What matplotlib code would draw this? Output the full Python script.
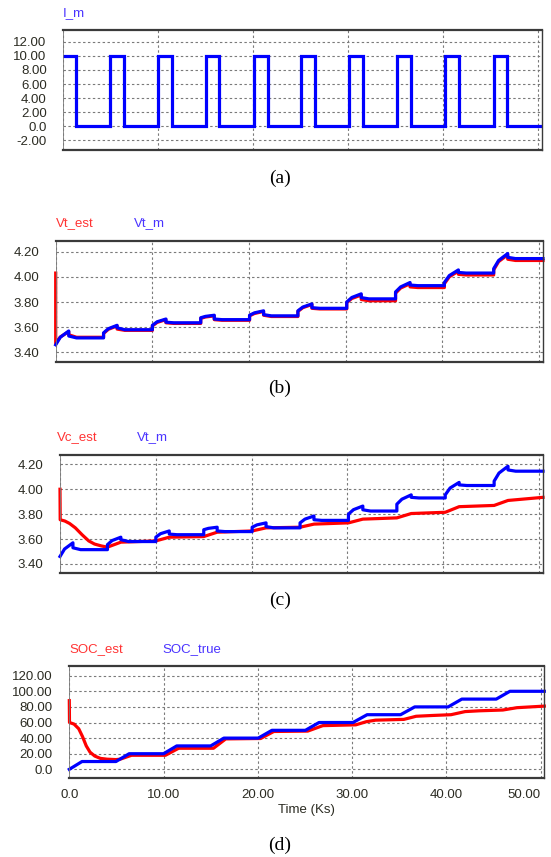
import matplotlib

matplotlib.use("Agg")
import matplotlib.pyplot as plt

W, H = 551, 857
T_END = 50.4

# pulse timing (Ks), shared by all traces
pulse_on = [0.0, 4.95, 10.0, 15.0, 20.05, 25.05, 30.1, 35.15, 40.2, 45.3]
pulse_off = [1.35, 6.35, 11.4, 16.4, 21.5, 26.5, 31.6, 36.65, 41.65, 46.75]
i_high = 10.0
i_low = 0.0

# terminal voltage per cycle: value after switch-on, value part way through the
# pulse, peak at switch-off, value right after switch-off, value at end of rest
vt_m_on = [3.46, 3.555, 3.615, 3.675, 3.695, 3.73, 3.80, 3.88, 3.955, 4.065]
vt_m_mid = [3.52, 3.588, 3.643, 3.686, 3.714, 3.76, 3.836, 3.92, 4.01, 4.13]
vt_m_peak = [3.57, 3.615, 3.665, 3.695, 3.73, 3.785, 3.865, 3.955, 4.055, 4.185]
vt_m_after = [3.53, 3.595, 3.64, 3.665, 3.70, 3.755, 3.835, 3.935, 4.035, 4.155]
vt_m_rest = [3.515, 3.58, 3.635, 3.66, 3.69, 3.75, 3.825, 3.93, 4.03, 4.145]

vt_est_init = 4.03
vt_est_on = [3.47, 3.55, 3.61, 3.67, 3.69, 3.725, 3.795, 3.87, 3.945, 4.055]
vt_est_mid = [3.522, 3.583, 3.638, 3.681, 3.709, 3.755, 3.828, 3.911, 4.0, 4.121]
vt_est_peak = [3.565, 3.61, 3.66, 3.69, 3.725, 3.78, 3.855, 3.945, 4.045, 4.175]
vt_est_after = [3.54, 3.585, 3.635, 3.66, 3.695, 3.75, 3.82, 3.92, 4.02, 4.14]
vt_est_rest = [3.52, 3.575, 3.63, 3.655, 3.685, 3.745, 3.81, 3.915, 4.015, 4.13]

# estimated open-circuit voltage
vc_est_t = [0, 0.02, 0.5, 1.0, 1.6, 2.3, 3.0, 3.6, 4.3, 4.95, 6.35, 10.0, 11.4,
            15.0, 16.4, 20.05, 21.5, 25.05, 26.5, 30.1, 31.6, 35.15, 36.65,
            40.2, 41.65, 45.3, 46.75, 50.4]
vc_est_v = [4.00, 3.755, 3.745, 3.725, 3.69, 3.635, 3.585, 3.56, 3.545, 3.535,
            3.575, 3.585, 3.615, 3.62, 3.655, 3.665, 3.69, 3.695, 3.72, 3.73,
            3.76, 3.77, 3.805, 3.815, 3.86, 3.87, 3.91, 3.935]

# SOC (%)
soc_true_levels = [0, 10, 20, 30, 40, 50, 60, 70, 80, 90, 100]
soc_est_t = [0, 0.02, 0.5, 1.0, 1.4, 1.8, 2.2, 2.7, 3.3, 4.0, 4.95, 5.4, 6.6,
             10.2, 11.6, 15.3, 16.6, 20.3, 21.7, 25.3, 26.9, 30.4, 31.5, 32.5,
             35.5, 36.8, 38.5, 40.5, 42.0, 43.5, 46.0, 47.5, 50.4]
soc_est_v = [88, 60, 58, 52, 42, 30, 22, 17, 14, 13, 12.5, 13, 18, 18, 27, 27,
             39, 39.5, 48.5, 49, 56, 57, 61, 63, 64, 68, 69, 70, 74, 75, 76, 79, 81]

RED = "#ff0000"
BLUE = "#0000ff"
LBL_RED = "#ff3333"
LBL_BLUE = "#4a33ff"
TXT = "#2b2b22"


def current_curve():
    t, v = [], []
    for k in range(len(pulse_on)):
        t += [pulse_on[k], pulse_off[k], pulse_off[k]]
        v += [i_high, i_high, i_low]
        nxt = pulse_on[k + 1] if k + 1 < len(pulse_on) else T_END
        t += [nxt]
        v += [i_low]
        if k + 1 < len(pulse_on):
            t += [nxt]
            v += [i_high]
    return t, v


def pulse_curve(on_v, mid_v, peak_v, after_v, rest_v):
    t, v = [], []
    for k in range(len(pulse_on)):
        if k > 0:
            t.append(pulse_on[k])
            v.append(rest_v[k - 1])
        t_mid = pulse_on[k] + 0.35 * (pulse_off[k] - pulse_on[k])
        t += [pulse_on[k], t_mid, pulse_off[k], pulse_off[k], pulse_off[k] + 0.8]
        v += [on_v[k], mid_v[k], peak_v[k], after_v[k], rest_v[k]]
        nxt = pulse_on[k + 1] if k + 1 < len(pulse_on) else T_END
        t.append(nxt)
        v.append(rest_v[k])
    return t, v


def soc_true_curve():
    t, v = [0.0], [soc_true_levels[0]]
    for k in range(len(pulse_on)):
        t.append(pulse_off[k])
        v.append(soc_true_levels[k + 1])
        nxt = pulse_on[k + 1] if k + 1 < len(pulse_on) else T_END
        t.append(nxt)
        v.append(soc_true_levels[k + 1])
    return t, v


def fmt(y):
    return "0.0" if abs(y) < 1e-9 else f"{y:.2f}"


def make_axes(fig, left, right, top, bottom, yticks, ylim, show_x=False):
    ax = fig.add_axes([left / W, 1 - bottom / H, (right - left) / W, (bottom - top) / H])
    ax.set_xlim(0, T_END)
    ax.set_ylim(*ylim)
    ax.set_xticks([0, 10, 20, 30, 40, 50])
    ax.set_yticks(yticks)
    ax.set_yticklabels([fmt(y) for y in yticks])
    ax.tick_params(length=0, labelsize=9.5, labelcolor=TXT, pad=12)
    ax.tick_params(axis="x", pad=8)
    ax.grid(True, color="#7a7a7a", linestyle=(0, (2.2, 2.2)), linewidth=0.8)
    ax.set_axisbelow(True)
    for side in ("top", "bottom"):
        ax.spines[side].set_linewidth(1.6)
        ax.spines[side].set_color("#3a3a3a")
    ax.spines["right"].set_linewidth(1.0)
    ax.spines["right"].set_color("#3a3a3a")
    ax.spines["left"].set_linewidth(0.6)
    ax.spines["left"].set_color("#7a7a7a")
    if show_x:
        labels = ["0.0", "10.00", "20.00", "30.00", "40.00", "50.00"]
        ax.set_xticklabels(labels)
        ax.get_xticklabels()[-1].set_horizontalalignment("right")
    else:
        ax.set_xticklabels([])
    return ax


def label(fig, x, y, s, color):
    fig.text(x / W, 1 - y / H, s, color=color, ha="left", va="center",
             fontsize=9.5)


def caption(fig, y, s):
    fig.text(280 / W, 1 - y / H, s, ha="center", va="center", fontsize=14,
             family="Liberation Serif", color="black")


def main() -> None:
    plt.rcParams["font.family"] = ["Liberation Sans", "DejaVu Sans"]
    fig = plt.figure(figsize=(W / 100, H / 100), dpi=100)
    lw = 2.3

    # (a) current
    ax = make_axes(fig, 63.3, 542, 30, 150, [12, 10, 8, 6, 4, 2, 0, -2], (-3.4, 13.7))
    t, v = current_curve()
    ax.plot(t, v, color=BLUE, lw=lw, solid_joinstyle="miter")
    label(fig, 63, 13, "I_m", LBL_BLUE)
    caption(fig, 178, "(a)")

    # (b) terminal voltage
    vt_ticks = [4.2, 4.0, 3.8, 3.6, 3.4]
    ax = make_axes(fig, 55.7, 543, 240.7, 361.7, vt_ticks, (3.326, 4.287))
    te, ve = pulse_curve(vt_est_on, vt_est_mid, vt_est_peak, vt_est_after, vt_est_rest)
    ax.plot([0] + te, [vt_est_init] + ve, color=RED, lw=lw, clip_on=False)
    tm, vm = pulse_curve(vt_m_on, vt_m_mid, vt_m_peak, vt_m_after, vt_m_rest)
    ax.plot(tm, vm, color=BLUE, lw=lw, clip_on=False)
    label(fig, 56, 223, "Vt_est", LBL_RED)
    label(fig, 134, 223, "Vt_m", LBL_BLUE)
    caption(fig, 388, "(b)")

    # (c) OCV estimate vs terminal voltage
    ax = make_axes(fig, 60, 543, 455, 573.3, vt_ticks, (3.325, 4.275))
    ax.plot(vc_est_t, vc_est_v, color=RED, lw=lw, clip_on=False)
    ax.plot(tm, vm, color=BLUE, lw=lw, clip_on=False)
    label(fig, 57, 437, "Vc_est", LBL_RED)
    label(fig, 137, 437, "Vt_m", LBL_BLUE)
    caption(fig, 600, "(c)")

    # (d) SOC
    ax = make_axes(fig, 69.3, 544.3, 665.7, 778.3, [120, 100, 80, 60, 40, 20, 0],
                   (-11.5, 132.8), show_x=True)
    ax.plot(soc_est_t, soc_est_v, color=RED, lw=lw, clip_on=False)
    ts, vs = soc_true_curve()
    ax.plot(ts, vs, color=BLUE, lw=lw, clip_on=False)
    ax.set_xlabel("Time (Ks)", fontsize=9.5, color=TXT, labelpad=2)
    label(fig, 69, 649, "SOC_est", LBL_RED)
    label(fig, 162, 649, "SOC_true", LBL_BLUE)
    caption(fig, 845, "(d)")

    fig.savefig("out.png", dpi=100)
    plt.close(fig)


if __name__ == "__main__":
    main()
